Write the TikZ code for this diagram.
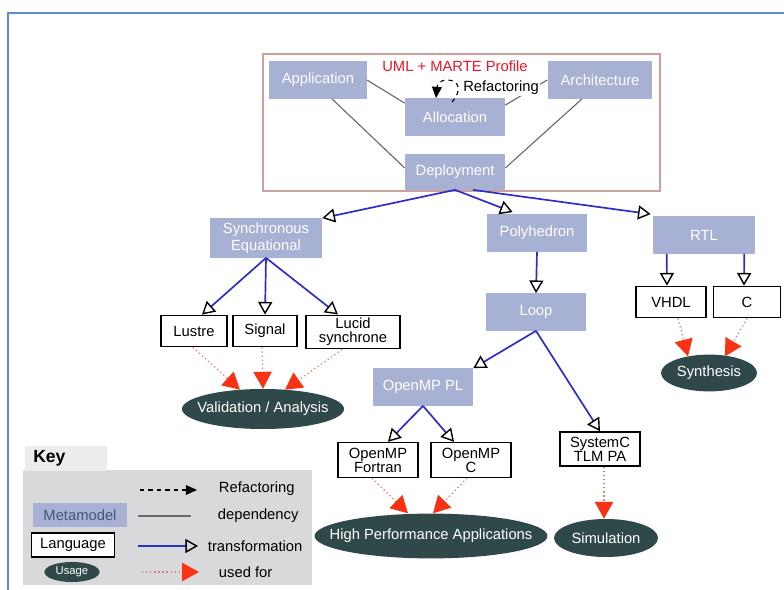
\documentclass[tikz,border=0pt]{standalone}
\usepackage{fontspec}
\setmainfont{Liberation Sans}
\usepackage{xcolor}
\usetikzlibrary{calc,
	positioning,
	shapes,
	arrows.meta}

\definecolor{metablue}{RGB}{166,177,212}
\definecolor{metatext}{RGB}{70,84,125}
\definecolor{usagegray}{RGB}{47,72,74}
\definecolor{transblue}{RGB}{45,45,200}
\definecolor{usedred}{RGB}{232,125,110}
\definecolor{arrowred}{RGB}{250,50,20}
\definecolor{depgray}{RGB}{105,105,105}
\definecolor{umlred}{RGB}{235,20,40}
\definecolor{framered}{RGB}{205,160,160}
\definecolor{frameblue}{RGB}{95,140,205}
\definecolor{keybody}{RGB}{217,217,219}
\definecolor{keytab}{RGB}{236,236,238}

\begin{document}
\begin{tikzpicture}[x=0.025cm, y=-0.025cm,
	every node/.style={font=\fontsize{10.5}{12}\selectfont},
	meta/.style={fill=metablue, text=white, minimum width=2.5cm, minimum height=0.93cm, inner sep=2pt, align=center},
	lang/.style={draw=black, line width=1.1pt, fill=white, minimum height=0.78cm, inner sep=2pt, align=center, font=\fontsize{10.5}{10}\selectfont},
	usage/.style={ellipse, fill=usagegray, text=white, inner sep=0pt},
	dep/.style={draw=depgray, line width=0.8pt},
	trans/.style={draw=transblue, line width=1.2pt, -{Triangle[open, length=9pt, width=10pt, color=black, line width=1pt]}},
	usedfor/.style={draw=usedred, dotted, line width=0.9pt, -{Triangle[length=12pt, width=13pt, color=arrowred]}},
	refac/.style={dashed, line width=0.8pt, -{Triangle[length=8pt, width=7pt]}}]
	\useasboundingbox (0,0) rectangle (784,590);
	\fill[white] (0,0) rectangle (784,590);
	\draw[frameblue, line width=1.5pt] (8,590) -- (8,13) -- (784,13);

	% UML + MARTE profile
	\draw[framered, line width=1pt] (263,54) rectangle (660,191);
	\node (umltitle) [text=umlred] at (455,66) {UML + MARTE Profile};
	\node (app) [meta, minimum width=2.43cm] at (318,80) {Application};
	\node (arch) [meta, minimum width=2.62cm] at (600,80) {Architecture};
	\node (alloc) [meta] at (455,117) {Allocation};
	\node (deploy) [meta, minimum height=0.88cm] at (455,172) {Deployment};
	\draw[dep] ($(app.south)+(14,0)$) -- ($(deploy.west)+(0,-4)$);
	\draw[dep] (app.east) -- ($(alloc.north west)+(0,5)$);
	\draw[dep] (arch.west) -- ($(alloc.north east)+(0,7)$);
	\draw[dep] ($(arch.south)+(-18,0)$) -- ($(deploy.east)+(0,-4)$);
	\node (refactext) [fill=white, inner sep=1pt] at (501,88) {Refactoring};
	\draw[refac] ($(alloc.north)+(-3,4)$) .. controls +(20,-24) and +(2,-24) .. ($(alloc.north)+(-19,0)$);

	% metamodels and languages
	\node (synceq) [meta, minimum width=2.8cm, minimum height=0.98cm] at (266,238) {Synchronous\\Equational};
	\node (poly) [meta] at (537,233) {Polyhedron};
	\node (rtl) [meta, minimum width=2.55cm] at (704,235) {RTL};
	\node (loop) [meta] at (536,312) {Loop};
	\node (omppl) [meta] at (423,387) {OpenMP PL};

	\node (lustre) [lang, minimum width=1.65cm] at (194,331) {Lustre};
	\node (signal) [lang, minimum width=1.6cm] at (265,331) {Signal};
	\node (lucid) [lang, minimum width=2.35cm, minimum height=0.82cm] at (353,332) {Lucid\\synchrone};
	\node (vhdl) [lang, minimum width=1.75cm] at (671,302) {VHDL};
	\node (clang) [lang, minimum width=1.68cm] at (747,302) {C};
	\node (fortran) [lang, minimum width=2cm, minimum height=0.87cm] at (378,460) {OpenMP\\Fortran};
	\node (ompc) [lang, minimum width=2cm, minimum height=0.87cm] at (471,460) {OpenMP\\C};
	\node (systemc) [lang, minimum width=2cm, minimum height=0.85cm] at (600,449) {SystemC\\TLM PA};

	% usages
	\node (valid) [usage, inner xsep=-6.5pt, minimum width=4.05cm, minimum height=1cm] at (263,409) {Validation / Analysis};
	\node (hpa) [usage, inner xsep=-13.5pt, minimum width=5.8cm, minimum height=1.12cm] at (431,536) {High Performance Applications};
	\node (simul) [usage, minimum width=2.6cm, minimum height=0.95cm] at (606,538) {Simulation};
	\node (synth) [usage, minimum width=2.4cm, minimum height=0.92cm] at (709,373) {Synthesis};

	% transformations
	\draw[trans] (deploy.south) -- (synceq.north east);
	\draw[trans] (deploy.south) -- ($(poly.north west)+(26,-2)$);
	\draw[trans] ($(deploy.south)+(18,0)$) -- ($(rtl.north west)+(-2,-2)$);
	\draw[trans] (synceq.south) -- ($(lustre.north)+(8,0)$);
	\draw[trans] (synceq.south) -- (signal.north);
	\draw[trans] (synceq.south) -- ($(lucid.north)+(-15,0)$);
	\draw[trans] (poly.south) -- (loop.north);
	\draw[trans] (loop.south) -- (omppl.north east);
	\draw[trans] (loop.south) -- (systemc.north);
	\draw[trans] (omppl.south) -- ($(fortran.north)+(10,0)$);
	\draw[trans] (omppl.south) -- ($(ompc.north)+(-17,0)$);
	\draw[trans] ($(rtl.south west)+(14,0)$) -- ($(vhdl.north)+(-4,0)$);
	\draw[trans] ($(rtl.south east)+(-11,0)$) -- ($(clang.north)+(-3,0)$);

	% used for
	\draw[usedfor] ($(lustre.south)+(-1,0)$) -- ($(valid.north)+(-23,1)$);
	\draw[usedfor] ($(signal.south)+(-3,0)$) -- ($(valid.north)+(0,0)$);
	\draw[usedfor] ($(lucid.south)+(-11,0)$) -- ($(valid.north)+(22,1)$);
	\draw[usedfor] ($(fortran.south)+(-6,0)$) -- ($(hpa.north)+(-23,0)$);
	\draw[usedfor] ($(ompc.south)+(-4,0)$) -- ($(hpa.north)+(2,0)$);
	\draw[usedfor] ($(systemc.south)+(4,0)$) -- ($(simul.north)+(-2,0)$);
	\draw[usedfor] ($(vhdl.south)+(7,0)$) -- ($(synth.north)+(-21,2)$);
	\draw[usedfor] ($(clang.south)+(0,0)$) -- ($(synth.north)+(16,2)$);

	% key
	\fill[keybody] (23,470) rectangle (312,585);
	\node (keyhead) [fill=keytab, anchor=south west, inner xsep=0.2cm, text width=1.65cm, minimum height=0.6cm, align=left, font=\fontsize{12.5}{14}\selectfont\bfseries] at (25,471) {Key};
	\node (lmeta) [meta, text=metatext, minimum width=2.35cm, minimum height=0.6cm] at (80,515) {Metamodel};
	\node (llang) [lang, minimum width=2.07cm, minimum height=0.6cm] at (73,545) {Language};
	\node (luse) [usage, minimum width=1.38cm, minimum height=0.5cm, font=\fontsize{8}{9}\selectfont] at (72,572) {Usage};
	\node (krefac) [anchor=west] at (214,489) {Refactoring};
	\node (kdep) [anchor=west] at (213,516) {dependency};
	\node (ktrans) [anchor=west] at (203,546) {transformation};
	\node (kused) [anchor=west] at (214,572) {used for};
	\coordinate (ka1) at (140,490);
	\coordinate (ka2) at (197,490);
	\coordinate (kb1) at (138,516);
	\coordinate (kb2) at (191,516);
	\coordinate (kc1) at (138,546);
	\coordinate (kc2) at (198,546);
	\coordinate (kd1) at (142,572);
	\coordinate (kd2) at (199,572);
	\draw[refac] (ka1) -- (ka2);
	\draw[dep] (kb1) -- (kb2);
	\draw[trans] (kc1) -- (kc2);
	\draw[usedfor] (kd1) -- (kd2);
\end{tikzpicture}
\end{document}
